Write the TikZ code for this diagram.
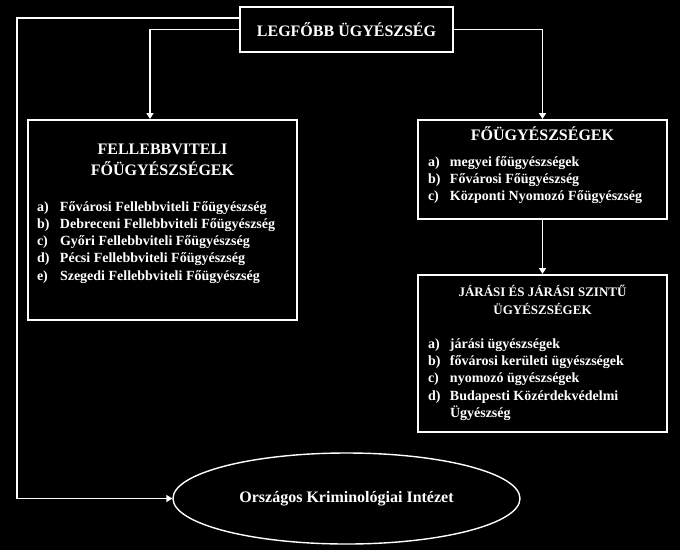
\documentclass[tikz,border=0pt]{standalone}
\usepackage{fontspec}
\setmainfont{Liberation Serif}
\usepackage{array}
\usetikzlibrary{positioning, arrows.meta, shapes.geometric}

\newcommand{\itemsize}{\fontsize{14}{17.3}\selectfont}
\newcommand{\headsize}{\fontsize{16}{20}\selectfont}
\newcommand{\subheadsize}{\fontsize{13}{16}\selectfont}

\begin{document}
\begin{tikzpicture}[
        x=1pt, y=-1pt,
        box/.style={
            rectangle, draw=white, line width=2pt, text=white,
            font=\bfseries\itemsize, inner sep=0pt
        },
        arrow/.style={-{Triangle[length=6pt,width=7pt]}, draw=white, line width=1.8pt}
    ]
        \fill[black] (0,0) rectangle (680,550);
        \useasboundingbox (0,0) rectangle (680,550);

        \node[box, minimum width=213pt, minimum height=45pt,
            font=\bfseries\fontsize{16}{19}\selectfont] (top) at (346.5,29.5)
            {LEGFŐBB ÜGYÉSZSÉG};

        \node[box, minimum width=269pt, minimum height=200pt] (fell) at (162.5,220) {%
            \begin{tabular}{@{}p{23pt}@{}p{228pt}@{}}
                \multicolumn{2}{c}{\headsize FELLEBBVITELI}\\[2pt]
                \multicolumn{2}{c}{\headsize FŐÜGYÉSZSÉGEK}\\[18pt]
                a) & Fővárosi Fellebbviteli Főügyészség\\
                b) & Debreceni Fellebbviteli Főügyészség\\
                c) & Győri Fellebbviteli Főügyészség\\
                d) & Pécsi Fellebbviteli Főügyészség\\
                e) & Szegedi Fellebbviteli Főügyészség\\[12pt]
            \end{tabular}};

        \node[box, minimum width=249pt, minimum height=99pt] (fo) at (542.5,169.5) {%
            \begin{tabular}{@{}p{22pt}@{}p{207pt}@{}}
                \multicolumn{2}{c}{\headsize FŐÜGYÉSZSÉGEK}\\[8pt]
                a) & megyei főügyészségek\\
                b) & Fővárosi Főügyészség\\
                c) & Központi Nyomozó Főügyészség\\[6pt]
            \end{tabular}};

        \node[box, minimum width=249pt, minimum height=157pt] (jar) at (542.5,353.5) {%
            \begin{tabular}{@{}p{22pt}@{}p{207pt}@{}}
                \multicolumn{2}{c}{\subheadsize JÁRÁSI ÉS JÁRÁSI SZINTŰ}\\[1pt]
                \multicolumn{2}{c}{\subheadsize ÜGYÉSZSÉGEK}\\[16pt]
                a) & járási ügyészségek\\
                b) & fővárosi kerületi ügyészségek\\
                c) & nyomozó ügyészségek\\
                d) & Budapesti Közérdekvédelmi\\
                   & Ügyészség
            \end{tabular}};

        \node[ellipse, draw=white, line width=1.4pt, text=white,
            minimum width=347pt, minimum height=91pt,
            font=\bfseries\fontsize{16}{19}\selectfont] (oki) at (346.5,498.5)
            {Országos Kriminológiai Intézet};

        \draw[arrow] ([yshift=11.5pt]top.west) -| ([xshift=-155pt]oki.west) -- (oki.west);
        \draw[arrow] (top.west) -| ([xshift=-12.5pt]fell.north);
        \draw[arrow] (top.east) -| (fo.north);
        \draw[arrow] (fo.south) -- (jar.north);
    \end{tikzpicture}
\end{document}
